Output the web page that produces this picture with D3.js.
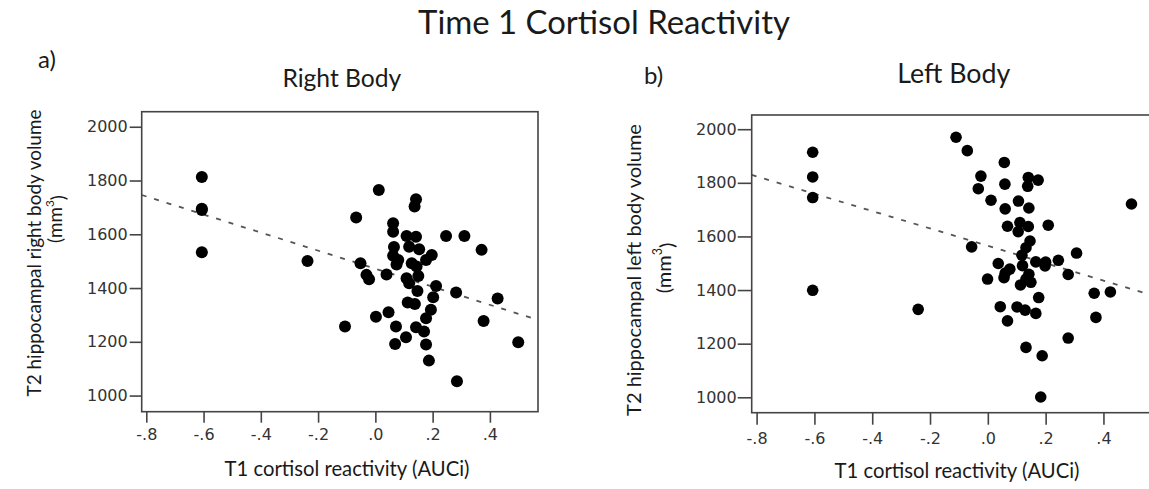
<!DOCTYPE html>
<html><head><meta charset="utf-8">
<script src="https://cdn.jsdelivr.net/npm/d3@7"></script>
<style>body{margin:0;background:#fff} svg{display:block}</style>
</head><body>
<svg id="c" width="1149" height="489"></svg>
<script>
// ---- data ----
const xTicks = [-0.8, -0.6, -0.4, -0.2, 0, 0.2, 0.4];
const xTickLabels = ["-.8", "-.6", "-.4", "-.2", ".0", ".2", ".4"];
const yTicks = [1000, 1200, 1400, 1600, 1800, 2000];
const yTickLabels = ["1000", "1200", "1400", "1600", "1800", "2000"];

// panel a) Right Body
const rightBodyX = [-0.606,-0.606,-0.606,-0.606,-0.237,0.012,0.142,0.137,-0.067,0.062,0.062,0.109,0.142,0.247,0.311,0.371,0.065,0.118,0.153,0.062,0.080,0.074,0.127,0.197,0.177,-0.052,0.144,-0.031,-0.022,0.039,0.150,0.109,0.118,0.212,0.147,0.202,0.282,0.427,0.113,0.138,0.194,0.177,0.046,0.002,-0.106,0.072,0.142,0.170,0.107,0.069,0.177,0.378,0.499,0.187,0.285];
const rightBodyY = [1813,1695,1690,1533,1501,1765,1730,1703,1662,1641,1609,1594,1591,1594,1594,1542,1553,1554,1544,1520,1504,1488,1492,1523,1504,1492,1480,1449,1433,1450,1445,1436,1418,1408,1389,1366,1383,1361,1346,1341,1319,1288,1310,1293,1257,1257,1254,1238,1217,1192,1190,1277,1198,1130,1053];
const rightBodyFit = [1472, -336]; // intercept, slope

// panel b) Left Body
const leftBodyX = [-0.606,-0.606,-0.606,-0.606,-0.241,-0.110,-0.071,0.057,-0.024,-0.033,0.059,0.140,0.174,0.138,0.011,0.106,0.142,0.060,0.068,0.111,0.140,0.105,0.209,0.497,0.146,0.132,-0.056,0.118,0.307,0.244,0.166,0.200,0.198,0.036,0.120,0.076,0.060,0.056,-0.001,0.142,0.132,0.149,0.113,0.278,0.368,0.424,0.176,0.043,0.101,0.129,0.166,0.068,0.374,0.278,0.132,0.188,0.183];
const leftBodyY = [1914,1822,1745,1399,1328,1970,1920,1876,1825,1778,1795,1820,1810,1787,1735,1732,1706,1703,1638,1652,1637,1618,1642,1721,1583,1558,1561,1530,1538,1511,1505,1504,1490,1499,1491,1478,1463,1446,1441,1459,1441,1429,1419,1458,1388,1393,1372,1338,1337,1325,1313,1285,1298,1221,1186,1155,1001];
const leftBodyFit = [1565, -324];

// ---- drawing ----
const svg = d3.select("#c");
const TITLE_FONT = "Lato, 'Open Sans', sans-serif";
const TICK_FONT = "'DejaVu Sans', sans-serif";
const INK = "#1a1a1a";

function fitWidth(sel, target) {
  const n = sel.node();
  const fs = parseFloat(sel.attr("font-size"));
  const len = n.getComputedTextLength();
  sel.attr("font-size", fs * target / len);
  return sel;
}

svg.append("text").attr("x", 604).attr("y", 34).attr("text-anchor", "middle")
  .attr("font-family", TITLE_FONT).attr("font-size", 30).attr("fill", INK)
  .text("Time 1 Cortisol Reactivity").call(s => fitWidth(s, 372));

const panels = [
  { tag: "a)", tagX: 38, tagY: 68, title: "Right Body", titleW: 119, titleY: 87,
    xs: rightBodyX, ys: rightBodyY, fit: rightBodyFit,
    left: 141.7, right: 538, top: 111.7, bottom: 411.7,
    xDomain: [-0.816, 0.568], yDomain: [940, 2056], r: 6,
    yTickLen: 12, yPad: 2, xTickLen: 11, xPad: 6,
    xTitle: "T1 cortisol reactivity (AUCi)", xTitleX: 347, xTitleY: 476,
    yTitle: "T2 hippocampal right body volume", yT1x: 33, yT1y: 253, yT2x: 54, yT2y: 219, yTitleW: 287 },
  { tag: "b)", tagX: 644, tagY: 84, title: "Left Body", titleW: 113, titleY: 83,
    xs: leftBodyX, ys: leftBodyY, fit: leftBodyFit,
    left: 751.7, right: 1152, top: 115, bottom: 412.7,
    xDomain: [-0.817, 0.568], yDomain: [942.5, 2053], r: 5.8,
    yTickLen: 14, yPad: 1, xTickLen: 12, xPad: 8,
    xTitle: "T1 cortisol reactivity (AUCi)", xTitleX: 957, xTitleY: 478,
    yTitle: "T2 hippocampal left body volume", yT1x: 633, yT1y: 270, yT2x: 663, yT2y: 268, yTitleW: 292 }
];

panels.forEach((p, pi) => {
  const g = svg.append("g");
  const x = d3.scaleLinear().domain(p.xDomain).range([p.left, p.right]);
  const y = d3.scaleLinear().domain(p.yDomain).range([p.bottom, p.top]);

  // tag and panel title
  g.append("text").attr("x", p.tagX).attr("y", p.tagY)
    .attr("font-family", TITLE_FONT).attr("font-size", 24).attr("fill", INK).text(p.tag);
  g.append("text").attr("x", (p.left + p.right) / 2 + 2).attr("y", p.titleY).attr("text-anchor", "middle")
    .attr("font-family", TITLE_FONT).attr("font-size", 24).attr("fill", INK).text(p.title)
    .call(s => fitWidth(s, p.titleW));

  // clip
  const cid = "clip" + pi;
  svg.append("defs").append("clipPath").attr("id", cid).append("rect")
    .attr("x", p.left).attr("y", p.top).attr("width", p.right - p.left).attr("height", p.bottom - p.top);

  // fit line
  const [a, b] = p.fit;
  g.append("line").attr("clip-path", `url(#${cid})`)
    .attr("x1", x(p.xDomain[0])).attr("y1", y(a + b * p.xDomain[0]))
    .attr("x2", x(p.xDomain[1])).attr("y2", y(a + b * p.xDomain[1]))
    .attr("stroke", "#555").attr("stroke-width", 1.8).attr("stroke-dasharray", "5,8");

  // dots
  g.append("g").selectAll("circle").data(p.xs.map((v, i) => [v, p.ys[i]])).join("circle")
    .attr("cx", d => x(d[0])).attr("cy", d => y(d[1])).attr("r", p.r).attr("fill", "#000");

  // frame
  g.append("rect").attr("x", p.left).attr("y", p.top)
    .attr("width", p.right - p.left).attr("height", p.bottom - p.top)
    .attr("fill", "none").attr("stroke", "#444").attr("stroke-width", 1.6);

  // axes
  const xa = g.append("g").attr("transform", `translate(0,${p.bottom})`)
    .call(d3.axisBottom(x).tickValues(xTicks).tickFormat((d, i) => xTickLabels[i])
      .tickSize(p.xTickLen).tickPadding(p.xPad).tickSizeOuter(0));
  const ya = g.append("g").attr("transform", `translate(${p.left},0)`)
    .call(d3.axisLeft(y).tickValues(yTicks).tickFormat((d, i) => yTickLabels[i])
      .tickSize(p.yTickLen).tickPadding(p.yPad).tickSizeOuter(0));
  [xa, ya].forEach(ax => {
    ax.select(".domain").remove();
    ax.selectAll(".tick line").attr("stroke", "#444").attr("stroke-width", 1.6);
    ax.selectAll(".tick text").attr("font-family", TICK_FONT).attr("font-size", 16).attr("fill", "#333");
  });

  // axis titles
  g.append("text").attr("x", p.xTitleX).attr("y", p.xTitleY).attr("text-anchor", "middle")
    .attr("font-family", TITLE_FONT).attr("font-size", 20).attr("fill", INK).text(p.xTitle)
    .call(s => fitWidth(s, 245));
  const yt = g.append("text").attr("transform", `translate(${p.yT1x},${p.yT1y}) rotate(-90)`)
    .attr("text-anchor", "middle").attr("dominant-baseline", "central")
    .attr("font-family", TITLE_FONT).attr("font-size", 20).attr("fill", INK).text(p.yTitle)
    .call(s => fitWidth(s, p.yTitleW));
  const fs = yt.attr("font-size");
  const u = g.append("text").attr("transform", `translate(${p.yT2x},${p.yT2y}) rotate(-90)`)
    .attr("text-anchor", "middle").attr("dominant-baseline", "central")
    .attr("font-family", TITLE_FONT).attr("font-size", fs).attr("fill", INK);
  u.append("tspan").text("(mm");
  u.append("tspan").attr("dy", "-0.45em").attr("font-size", fs * 0.62).text("3");
  u.append("tspan").attr("dy", "0.45em").text(")");
});
</script>
</body></html>
